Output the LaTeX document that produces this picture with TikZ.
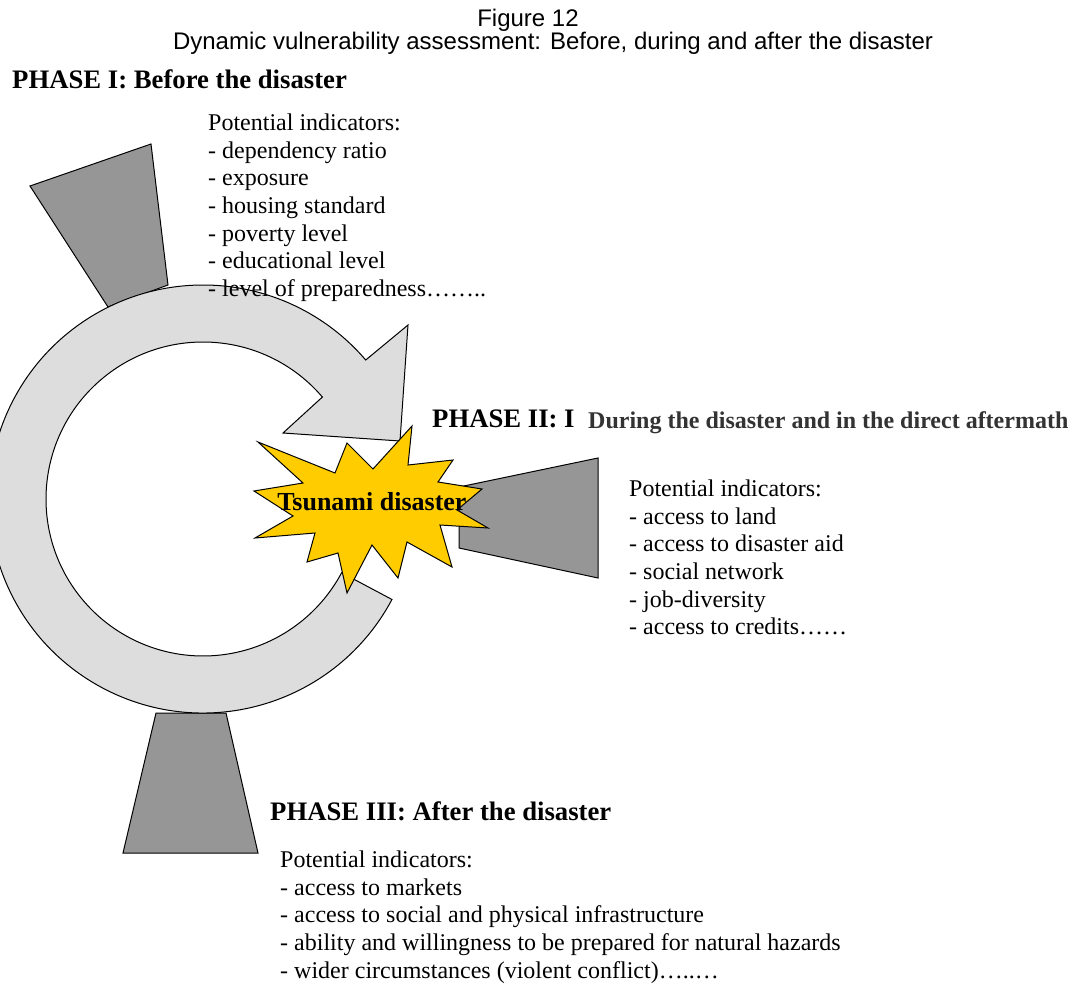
\documentclass[tikz,border=0pt]{standalone}
\usepackage{fontspec}
\setmainfont{Liberation Serif}
\newfontfamily\titlefont{Liberation Sans}
\usetikzlibrary{calc}
\definecolor{ringgray}{HTML}{DDDDDD}
\definecolor{blockgray}{HTML}{969696}
\definecolor{blastyellow}{HTML}{FFCC00}

\begin{document}
\begin{tikzpicture}[x=1pt,y=-1pt,
    ring/.style={draw=black,fill=ringgray,line width=1pt},
    block/.style={draw=black,fill=blockgray,line width=1pt},
    blast/.style={draw=black,fill=blastyellow,line width=1pt},
    phase/.style={anchor=base west,inner sep=0pt,font=\fontsize{26.7}{30}\selectfont\bfseries},
    indic/.style={anchor=north west,inner sep=0pt,align=left,font=\fontsize{24}{27.7}\selectfont},
    title/.style={anchor=base,inner sep=0pt,font=\titlefont\fontsize{24}{24}\selectfont}]
    \useasboundingbox (0,0) rectangle (1075,984);

    % Title
    \node[title] (fig) at (528,27) {Figure 12};
    \node[title] (caption) at (553,50) {Dynamic vulnerability assessment: Before, during and after the disaster};

    % Indicator blocks (trapezoids)
    \draw[block] (30,186) -- (151,144) -- (168,285) -- (108,307) -- cycle;
    \draw[block] (459,487) -- (598,458) -- (598,578) -- (459,548) -- cycle;
    \draw[block] (156,713) -- (226,713) -- (258,853) -- (123,853) -- cycle;

    % Circular arrow
    \coordinate (c) at (203,499);
    \draw[ring] ($(c)+(-40.5:214)$) -- (408,325) -- (400,441) -- (283,433)
        -- ($(c)+(-40.5:157)$) arc[start angle=-40.5, end angle=-332, radius=157]
        -- ($(c)+(-332:214)$) arc[start angle=-332, end angle=-40.5, radius=214] -- cycle;

    % Explosion
    \draw[blast] (258,442) -- (335,473) -- (347,443) -- (373,469) -- (412,426) -- (408,465)
        -- (453,460) -- (438,482) -- (482,489) -- (457,510) -- (488,528) -- (440,525)
        -- (452,567) -- (407,542) -- (398,578) -- (372,545) -- (347,593) -- (338,553)
        -- (307,562) -- (315,533) -- (255,538) -- (293,516) -- (254,491) -- (303,483) -- cycle;
    \node[anchor=base,inner sep=0pt,font=\fontsize{26}{30}\selectfont\bfseries] (tsunami) at (372,510) {Tsunami disaster};

    % Phase headings
    \node[phase] (phase1) at (12,89) {PHASE I: Before the disaster};
    \node[phase] (phase2) at (432,427) {PHASE II: I};
    \node[phase,font=\fontsize{24}{28}\selectfont\bfseries,text=black!80] (during) at (588,428) {During the disaster and in the direct aftermath};
    \node[phase] (phase3) at (270,820) {PHASE III: After the disaster};

    % Indicator lists
    \node[indic] (list1) at (208,113.6) {Potential indicators:\\- dependency ratio\\- exposure\\- housing standard\\- poverty level\\- educational level\\- level of preparedness……..};
    \node[indic] (list2) at (629,479.6) {Potential indicators:\\- access to land\\- access to disaster aid\\- social network\\- job-diversity\\- access to credits……};
    \node[indic] (list3) at (280,850.6) {Potential indicators:\\- access to markets\\- access to social and physical infrastructure\\- ability and willingness to be prepared for natural hazards\\- wider circumstances (violent conflict)…..…};
\end{tikzpicture}
\end{document}
